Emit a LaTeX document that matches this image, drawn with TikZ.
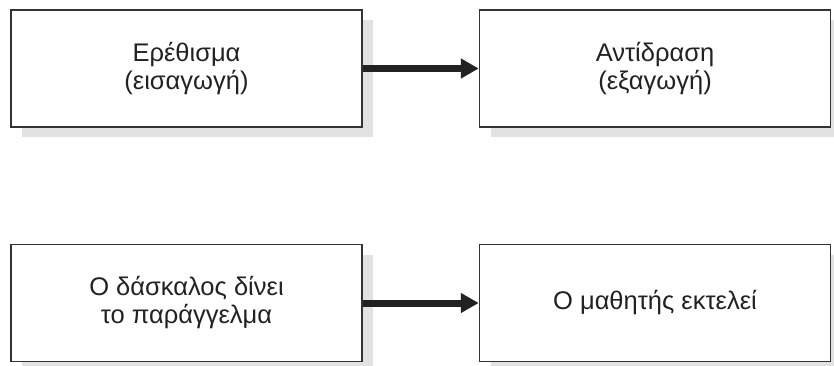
\documentclass[tikz,border=0pt]{standalone}
\usepackage{fontspec}
\setmainfont{Liberation Sans}
\usetikzlibrary{arrows.meta,shadows}
\definecolor{boxline}{HTML}{333333}
\definecolor{shadowgray}{HTML}{E2E2E2}
\definecolor{txt}{HTML}{222222}
\begin{document}
\begin{tikzpicture}[x=1bp,y=-1bp,
  box/.style={draw=boxline, line width=1.5bp, fill=white, text=txt,
    minimum width=351bp, minimum height=117bp, inner sep=0pt, align=center,
    font=\fontsize{25.5bp}{28bp}\selectfont,
    drop shadow={shadow xshift=11bp, shadow yshift=-10bp, fill=shadowgray, opacity=1}},
  conn/.style={draw=txt, line width=7bp, -{Triangle[length=18bp,width=19bp]}}]
\useasboundingbox (0,0) rectangle (834,365);
\node[box] (stim) at (186.5,68.5) {Ερέθισμα\\(εισαγωγή)};
\node[box] (resp) at (655,68.5) {Αντίδραση\\(εξαγωγή)};
\node[box] (teach) at (186.5,303) {Ο δάσκαλος δίνει\\το παράγγελμα};
\node[box] (pupil) at (655,303) {Ο μαθητής εκτελεί};
\draw[conn] (stim.east) -- (resp.west);
\draw[conn] (teach.east) -- (pupil.west);
\end{tikzpicture}
\end{document}
